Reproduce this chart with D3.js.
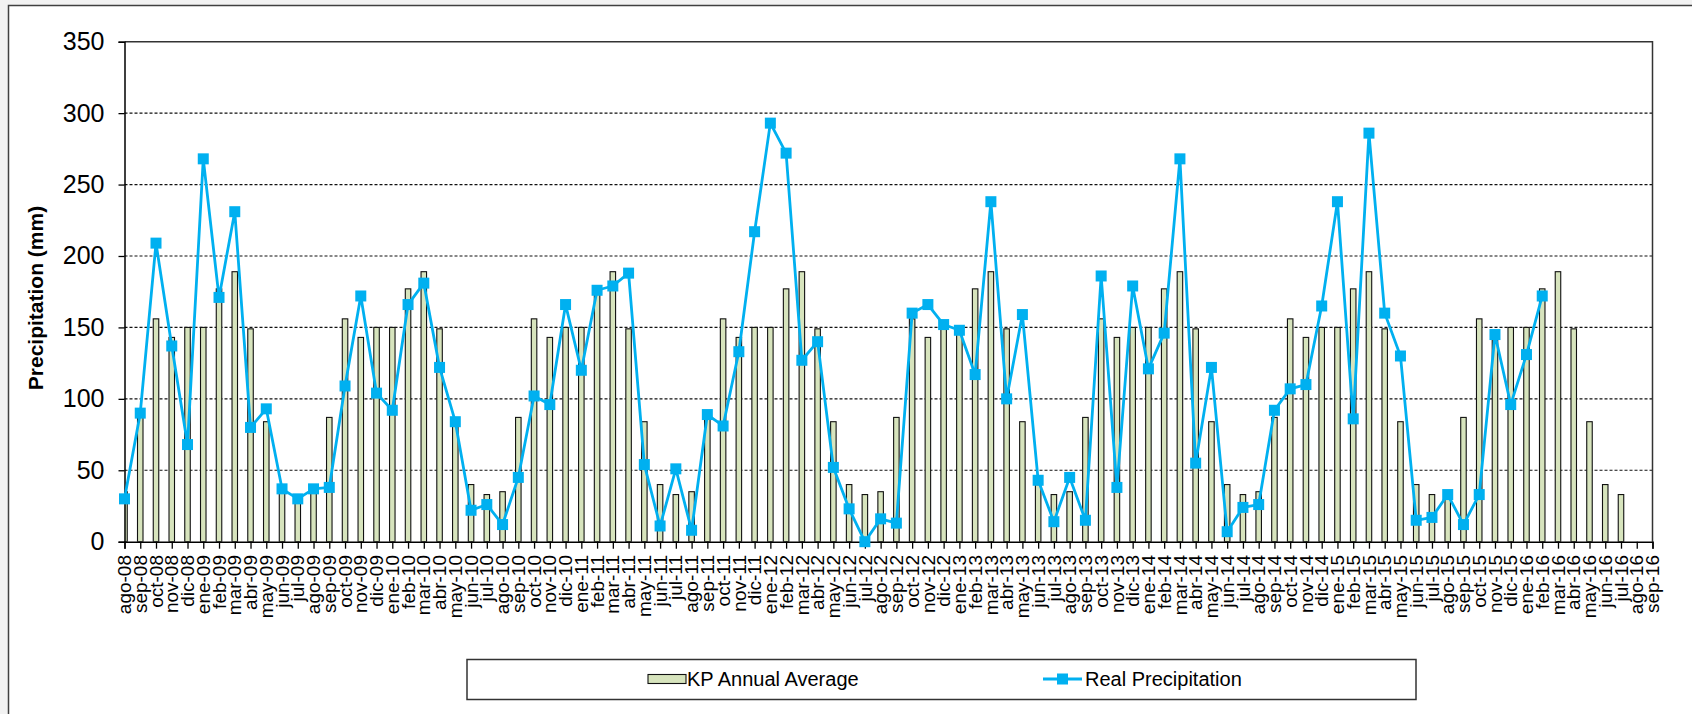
<!DOCTYPE html>
<html>
<head>
<meta charset="utf-8">
<script src="https://cdn.jsdelivr.net/npm/d3@7"></script>
<style>
  html, body { margin: 0; padding: 0; background: #f2f2f2; }
  svg { display: block; }
  text { font-family: "Liberation Sans", Arial, sans-serif; fill: #000; }
</style>
</head>
<body>
<svg id="chart" width="1692" height="714"></svg>
<script>
// ---- data ----
const months = ["ago-08","sep-08","oct-08","nov-08","dic-08","ene-09","feb-09","mar-09","abr-09","may-09","jun-09","jul-09",
  "ago-09","sep-09","oct-09","nov-09","dic-09","ene-10","feb-10","mar-10","abr-10","may-10","jun-10","jul-10",
  "ago-10","sep-10","oct-10","nov-10","dic-10","ene-11","feb-11","mar-11","abr-11","may-11","jun-11","jul-11",
  "ago-11","sep-11","oct-11","nov-11","dic-11","ene-12","feb-12","mar-12","abr-12","may-12","jun-12","jul-12",
  "ago-12","sep-12","oct-12","nov-12","dic-12","ene-13","feb-13","mar-13","abr-13","may-13","jun-13","jul-13",
  "ago-13","sep-13","oct-13","nov-13","dic-13","ene-14","feb-14","mar-14","abr-14","may-14","jun-14","jul-14",
  "ago-14","sep-14","oct-14","nov-14","dic-14","ene-15","feb-15","mar-15","abr-15","may-15","jun-15","jul-15",
  "ago-15","sep-15","oct-15","nov-15","dic-15","ene-16","feb-16","mar-16","abr-16","may-16","jun-16","jul-16",
  "ago-16","sep-16"];

// KP Annual Average (null = no bar)
const kpAverage = [35,87,156,143,150,150,177,189,149,84,40,33,
  35,87,156,143,150,150,177,189,149,84,40,33,
  35,87,156,143,150,150,177,189,149,84,40,33,
  35,87,156,143,150,150,177,189,149,84,40,33,
  35,87,156,143,150,150,177,189,149,84,40,33,
  35,87,156,143,150,150,177,189,149,84,40,33,
  35,87,156,143,150,150,177,189,149,84,40,33,
  35,87,156,143,150,150,177,189,149,84,40,33,
  null,null];

// Real Precipitation (null = no data)
const realPrecip = [30,90,209,137,68,268,171,231,80,93,37,30,
  37,38,109,172,104,92,166,181,122,84,22,26,
  12,45,102,96,166,120,176,179,188,54,11,51,
  8,89,81,133,217,293,272,127,140,52,23,0,
  16,13,160,166,152,148,117,238,100,159,43,14,
  45,15,186,38,179,121,146,268,55,122,7,24,
  26,92,107,110,165,238,86,286,160,130,15,17,
  33,12,33,145,96,131,172,null,null,null,null,null,
  null,null];

const yTicks = [0,50,100,150,200,250,300,350];
const legendLabels = ["KP Annual Average","Real Precipitation"];
const yTitle = "Precipitation (mm)";

// ---- layout ----
const svg = d3.select("#chart");
const pLeft = 124.5, pRight = 1652.5, pTop = 41.7, pBottom = 541.7;
const barColor = "#d7e4bd", lineColor = "#00b0f0";

// chart frame
svg.append("rect").attr("x", 8.5).attr("y", 5.5).attr("width", 1700).attr("height", 720)
  .attr("fill", "#fff").attr("stroke", "#404040").attr("stroke-width", 1.5);

const x = d3.scalePoint().domain(months).range([pLeft, pRight]).padding(0);
const y = d3.scaleLinear().domain([0, 350]).range([pBottom, pTop]);

// gridlines
svg.append("g").selectAll("line").data(yTicks.filter(d => d > 0 && d < 350)).join("line")
  .attr("x1", pLeft).attr("x2", pRight).attr("y1", d => y(d)).attr("y2", d => y(d))
  .attr("stroke", "#111").attr("stroke-width", 1.2).attr("stroke-dasharray", "3,2");

// plot border top & right
svg.append("path").attr("d", `M${pLeft},${pTop}H${pRight}V${pBottom}`)
  .attr("fill", "none").attr("stroke", "#333").attr("stroke-width", 1.5);

// clip for bars
svg.append("clipPath").attr("id", "plotclip").append("rect")
  .attr("x", pLeft).attr("y", pTop - 20).attr("width", pRight - pLeft).attr("height", pBottom - pTop + 20);

// bars
const barW = 5.5;
svg.append("g").attr("clip-path", "url(#plotclip)").selectAll("rect")
  .data(months.map((m, i) => ({m, v: kpAverage[i]})).filter(d => d.v != null)).join("rect")
  .attr("x", d => x(d.m) - barW / 2).attr("width", barW)
  .attr("y", d => y(d.v)).attr("height", d => y(0) - y(d.v))
  .attr("fill", barColor).attr("stroke", "#111").attr("stroke-width", 1.1);

// y axis
const yAxis = d3.axisLeft(y).tickValues(yTicks).tickSize(6).tickPadding(14);
const gy = svg.append("g").attr("transform", `translate(${pLeft},0)`).call(yAxis);
gy.select(".domain").attr("stroke", "#000").attr("stroke-width", 1.5);
gy.selectAll(".tick line").attr("stroke", "#000").attr("stroke-width", 1.3);
gy.selectAll(".tick text").attr("font-size", 25).attr("font-family", "Liberation Sans, Arial, sans-serif").attr("fill", "#111");

// x axis
const xAxis = d3.axisBottom(x).tickSize(7).tickFormat("");
const gx = svg.append("g").attr("transform", `translate(0,${pBottom})`).call(xAxis);
gx.select(".domain").attr("stroke", "#000").attr("stroke-width", 1.5);
gx.selectAll(".tick line").attr("stroke", "#000").attr("stroke-width", 1.3);

// x labels rotated
svg.append("g").selectAll("text").data(months).join("text")
  .attr("transform", d => `translate(${x(d)},555) rotate(-90)`)
  .attr("text-anchor", "end").attr("dy", "0.35em")
  .attr("font-size", 19).attr("fill", "#111").text(d => d);

// line
const pts = months.map((m, i) => ({m, v: realPrecip[i]})).filter(d => d.v != null);
svg.append("path").datum(pts)
  .attr("d", d3.line().x(d => x(d.m)).y(d => y(d.v)))
  .attr("fill", "none").attr("stroke", lineColor).attr("stroke-width", 2.8).attr("stroke-linejoin", "round");
const ms = 11;
svg.append("g").selectAll("rect").data(pts).join("rect")
  .attr("x", d => x(d.m) - ms / 2).attr("y", d => y(d.v) - ms / 2)
  .attr("width", ms).attr("height", ms).attr("fill", lineColor);

// y title
svg.append("text").attr("transform", "translate(36,298) rotate(-90)")
  .attr("text-anchor", "middle").attr("dy", "0.35em")
  .attr("font-size", 21).attr("font-weight", "bold").text(yTitle);

// legend
const lg = svg.append("g");
lg.append("rect").attr("x", 467).attr("y", 659.5).attr("width", 949).attr("height", 40)
  .attr("fill", "#fff").attr("stroke", "#333").attr("stroke-width", 1.5);
lg.append("rect").attr("x", 648).attr("y", 674.5).attr("width", 38).attr("height", 9)
  .attr("fill", barColor).attr("stroke", "#111").attr("stroke-width", 1.1);
lg.append("text").attr("x", 687).attr("y", 679).attr("dy", "0.35em").attr("font-size", 20).attr("fill", "#111").text(legendLabels[0]);
lg.append("line").attr("x1", 1043).attr("x2", 1082).attr("y1", 679).attr("y2", 679)
  .attr("stroke", lineColor).attr("stroke-width", 2.8);
lg.append("rect").attr("x", 1062.5 - ms / 2).attr("y", 679 - ms / 2).attr("width", ms).attr("height", ms).attr("fill", lineColor);
lg.append("text").attr("x", 1085).attr("y", 679).attr("dy", "0.35em").attr("font-size", 20).attr("fill", "#111").text(legendLabels[1]);
</script>
</body>
</html>
